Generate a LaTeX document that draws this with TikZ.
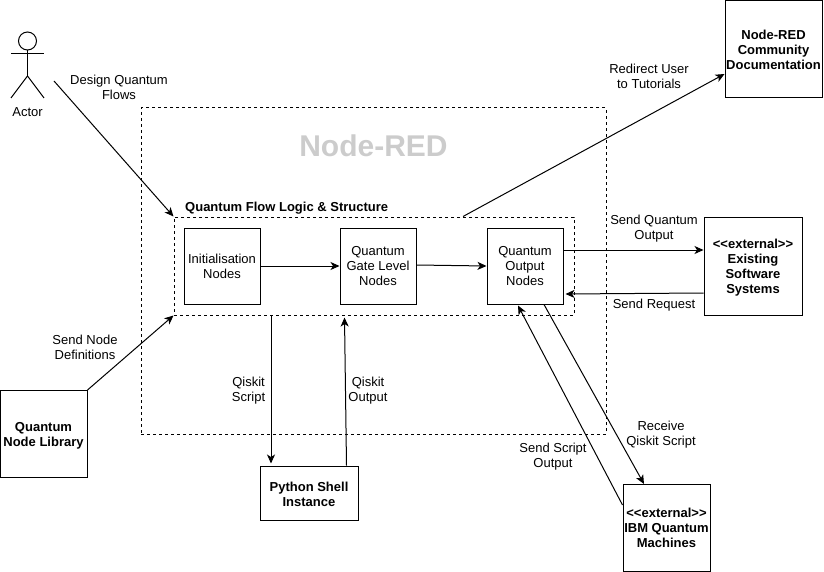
\documentclass[tikz,border=0pt]{standalone}
\usepackage{fontspec}
\setmainfont[Ligatures=NoCommon]{Liberation Sans}
\usetikzlibrary{arrows.meta,calc}
\newcommand{\lowr}[1]{\rule{0pt}{#1pt}}
\tikzset{
  x=1pt,y=-1pt,
  boxn/.style={draw=black,line width=1pt,fill=white,align=center,inner sep=0pt,font=\fontsize{13}{15}\selectfont},
  bbox/.style={boxn,font=\fontsize{13}{15}\selectfont\bfseries},
  lbl/.style={align=center,inner sep=0pt,font=\fontsize{13}{15}\selectfont},
  zone/.style={draw=black,line width=1pt,dash pattern=on 3pt off 3pt},
  conn/.style={draw=black,line width=1pt,-{Stealth[length=9pt,width=8pt,inset=2.5pt]}},
  plainl/.style={draw=black,line width=1pt}
}
\begin{document}
\begin{tikzpicture}
\useasboundingbox (0,0) rectangle (824,572);
% zones
\node[zone,minimum width=465pt,minimum height=326pt,inner sep=0pt] (nodered) at (373.5,271) {};
\node[zone,minimum width=400pt,minimum height=98pt,inner sep=0pt] (flow) at (374,266) {};
\node[inner sep=0pt,font=\fontsize{30}{32}\selectfont\bfseries,text=black!20] (title) at (373.5,146) {Node-RED};
\node[inner sep=0pt,font=\fontsize{13}{15}\selectfont\bfseries,anchor=west] (flowt) at (185,208) {Quantum Flow Logic \& Structure};
% boxes
\node[boxn,minimum width=76pt,minimum height=76pt] (init) at (222,266) {Initialisation\\Nodes};
\node[boxn,minimum width=76pt,minimum height=76pt] (gate) at (378,266) {Quantum\\Gate Level\\Nodes};
\node[boxn,minimum width=76pt,minimum height=76pt] (out) at (525,266) {Quantum\\Output\\Nodes};
\node[bbox,minimum width=97pt,minimum height=97pt] (docs) at (773.5,49) {\lowr{10.5}Node-RED\\Community\\Documentation};
\node[bbox,minimum width=98pt,minimum height=98pt] (ext) at (753,266) {\lowr{12.5}{<}{<}external{>}{>}\\Existing\\Software\\Systems};
\node[bbox,minimum width=87pt,minimum height=87pt] (ibm) at (666.5,528) {{<}{<}external{>}{>}\\IBM Quantum\\Machines};
\node[bbox,minimum width=98pt,minimum height=54pt] (py) at (309,493) {\lowr{11.5}Python Shell\\Instance};
\node[bbox,minimum width=87pt,minimum height=87pt] (lib) at (43.5,434) {\lowr{13.5}Quantum\\Node Library};
% actor
\node[draw=black,line width=1pt,circle,minimum size=18pt,inner sep=0pt] (head) at (27.5,41) {};
\coordinate (hip) at (27.5,76);
\coordinate (armL) at (11,54);
\coordinate (armR) at (44,54);
\coordinate (legL) at (11,98);
\coordinate (legR) at (44,98);
\draw[plainl] (head.south) -- (hip);
\draw[plainl] (armL) -- (armR);
\draw[plainl] (legL) -- (hip) -- (legR);
\node[lbl] (actor) at (27.5,112) {Actor};
% connectors
\coordinate (actorout) at (54,81);
\draw[conn] (actorout) -- (flow.north west);
\draw[conn] (lib.north east) -- (flow.south west);
\draw[conn] (init.east) -- (gate.west);
\draw[conn] ([yshift=1pt]gate.east) -- (out.west);
\draw[conn] ([xshift=-103pt]flow.south) -- ([xshift=-38pt,yshift=2pt]py.north);
\draw[conn] ([xshift=37.5pt]py.north) -- ([xshift=-29.5pt,yshift=-2pt]flow.south);
\draw[conn] ([xshift=89pt]flow.north) -- ([yshift=-74pt]docs.north west);
\draw[conn] ([yshift=16pt]out.east) -- ([yshift=16pt]ext.west);
\draw[conn] ([yshift=-27pt]ext.west) -- ([xshift=2pt,yshift=-28pt]out.east);
\draw[conn] ([yshift=23pt]ibm.west) -- ([xshift=-7pt,yshift=-1pt]out.south);
\draw[conn] ([xshift=19pt]out.south) -- ([xshift=-22.5pt]ibm.north);
% labels
\node[lbl] (l1) at (119,87) {Design Quantum\\Flows};
\node[lbl] (l2) at (85,347) {Send Node\\Definitions};
\node[lbl] (l3) at (248.5,391) {Qiskit\\Script};
\node[lbl] (l4) at (368,391) {Qiskit\\Output};
\node[lbl] (l5) at (649,76.5) {Redirect User\\to Tutorials};
\node[lbl] (l6) at (654,229) {Send Quantum\\Output};
\node[lbl] (l7) at (654,305) {Send Request};
\node[lbl] (l8) at (661,435) {Receive\\Qiskit Script};
\node[lbl] (l9) at (553,457) {Send Script\\Output};
\end{tikzpicture}
\end{document}
